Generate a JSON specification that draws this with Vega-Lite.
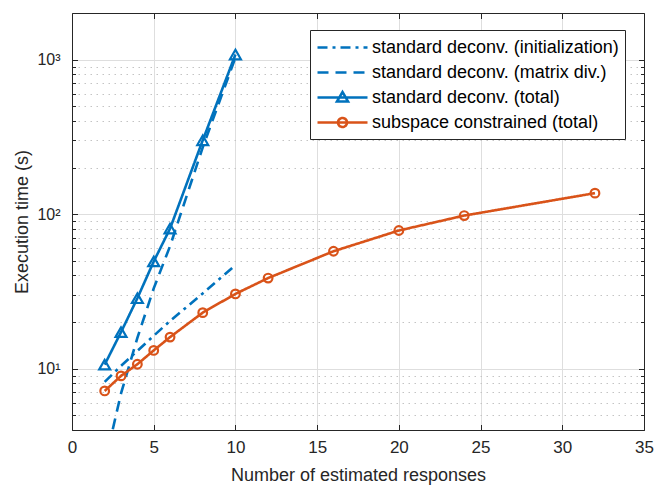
{
  "$schema": "https://vega.github.io/schema/vega-lite/v6.json",
  "width": 572,
  "height": 417,
  "autosize": {"type": "none"},
  "padding": {"left": 72, "top": 13, "right": 10, "bottom": 55},
  "background": "white",
  "config": {
    "view": {"stroke": null},
    "font": "Liberation Sans",
    "axis": {
      "labelFont": "Liberation Sans",
      "titleFont": "Liberation Sans",
      "labelColor": "#262626",
      "titleColor": "#262626",
      "domainColor": "#262626",
      "tickColor": "#262626",
      "titleFontWeight": "normal",
      "gridColor": "#dedede",
      "gridWidth": 1,
      "domainWidth": 1,
      "tickWidth": 1
    }
  },
  "datasets": {
    "d": [
      {"responses": 2, "time": 8.2, "series": "standard deconv. (initialization)"},
      {"responses": 3, "time": 10.4, "series": "standard deconv. (initialization)"},
      {"responses": 4, "time": 13.0, "series": "standard deconv. (initialization)"},
      {"responses": 5, "time": 16.3, "series": "standard deconv. (initialization)"},
      {"responses": 6, "time": 20.3, "series": "standard deconv. (initialization)"},
      {"responses": 8, "time": 30.6, "series": "standard deconv. (initialization)"},
      {"responses": 10, "time": 46.7, "series": "standard deconv. (initialization)"},
      {"responses": 2, "time": 2.4, "series": "standard deconv. (matrix div.)"},
      {"responses": 3, "time": 6.9, "series": "standard deconv. (matrix div.)"},
      {"responses": 4, "time": 15.8, "series": "standard deconv. (matrix div.)"},
      {"responses": 5, "time": 33, "series": "standard deconv. (matrix div.)"},
      {"responses": 6, "time": 62, "series": "standard deconv. (matrix div.)"},
      {"responses": 8, "time": 270, "series": "standard deconv. (matrix div.)"},
      {"responses": 10, "time": 1030, "series": "standard deconv. (matrix div.)"},
      {"responses": 2, "time": 10.6, "series": "standard deconv. (total)"},
      {"responses": 3, "time": 17.2, "series": "standard deconv. (total)"},
      {"responses": 4, "time": 28.5, "series": "standard deconv. (total)"},
      {"responses": 5, "time": 49.3, "series": "standard deconv. (total)"},
      {"responses": 6, "time": 80.5, "series": "standard deconv. (total)"},
      {"responses": 8, "time": 300, "series": "standard deconv. (total)"},
      {"responses": 10, "time": 1077, "series": "standard deconv. (total)"},
      {"responses": 2, "time": 7.16, "series": "subspace constrained (total)"},
      {"responses": 3, "time": 8.96, "series": "subspace constrained (total)"},
      {"responses": 4, "time": 10.66, "series": "subspace constrained (total)"},
      {"responses": 5, "time": 13.1, "series": "subspace constrained (total)"},
      {"responses": 6, "time": 15.97, "series": "subspace constrained (total)"},
      {"responses": 8, "time": 23.0, "series": "subspace constrained (total)"},
      {"responses": 10, "time": 30.4, "series": "subspace constrained (total)"},
      {"responses": 12, "time": 38.5, "series": "subspace constrained (total)"},
      {"responses": 16, "time": 57.4, "series": "subspace constrained (total)"},
      {"responses": 20, "time": 78.2, "series": "subspace constrained (total)"},
      {"responses": 24, "time": 97.7, "series": "subspace constrained (total)"},
      {"responses": 32, "time": 136.5, "series": "subspace constrained (total)"}
    ]
  },
  "data": {"name": "d"},
  "layer": [
    {
      "mark": {"type": "line", "clip": true, "strokeWidth": 2.6, "strokeCap": "butt"},
      "encoding": {
        "x": {
          "field": "responses", "type": "quantitative",
          "scale": {"domain": [0, 35], "nice": false, "zero": false},
          "axis": {
            "title": "Number of estimated responses",
            "values": [0, 5, 10, 15, 20, 25, 30, 35],
            "format": "d",
            "labelFontSize": 17,
            "titleFontSize": 18,
            "tickSize": -5.5,
            "labelPadding": 15,
            "titlePadding": 11,
            "labelFlush": false,
            "grid": true
          }
        },
        "y": {
          "field": "time", "type": "quantitative",
          "scale": {"type": "log", "domain": [4, 2000], "nice": false},
          "axis": {
            "title": "Execution time (s)",
            "values": [10, 100, 1000],
            "labelExpr": "datum.value == 10 ? '10¹' : datum.value == 100 ? '10²' : '10³'",
            "labelFontSize": 16,
            "titleFontSize": 18,
            "tickSize": -5.5,
            "labelPadding": 17.5,
            "titlePadding": 5,
            "grid": true
          }
        },
        "color": {
          "field": "series", "type": "nominal",
          "scale": {
            "domain": ["standard deconv. (initialization)", "standard deconv. (matrix div.)", "standard deconv. (total)", "subspace constrained (total)"],
            "range": ["#0072BD", "#0072BD", "#0072BD", "#D95319"]
          },
          "legend": {
            "title": null,
            "orient": "none",
            "legendX": 238,
            "legendY": 17,
            "symbolSize": 400,
            "symbolOffset": 15,
            "symbolStrokeWidth": 2.6,
            "labelFontSize": 18,
            "labelFont": "Arial",
            "labelColor": "#000000",
            "labelLimit": 0,
            "labelOffset": 18,
            "strokeColor": "#262626",
            "fillColor": "#ffffff",
            "padding": 6,
            "rowPadding": 4,
            "encode": {
              "symbols": {
                "update": {
                  "fill": {"value": "transparent"},
                  "shape": {"signal": "datum.value === 'standard deconv. (total)' ? 'M-2.5,0L2.5,0M0,-0.55L0.55,0.4L-0.55,0.4Z' : datum.value === 'subspace constrained (total)' ? 'M-2.5,0L2.5,0M0.45,0A0.45,0.45,0,1,1,-0.45,0A0.45,0.45,0,1,1,0.45,0' : 'M-2.5,0L2.5,0'"}
                }
              }
            }
          }
        },
        "strokeDash": {
          "field": "series", "type": "nominal",
          "scale": {
            "domain": ["standard deconv. (initialization)", "standard deconv. (matrix div.)", "standard deconv. (total)", "subspace constrained (total)"],
            "range": [[10, 5, 3, 5], [11, 7], [1, 0], [1, 0]]
          },
          "legend": {
            "title": null,
            "orient": "none",
            "legendX": 238,
            "legendY": 17,
            "symbolSize": 400,
            "symbolOffset": 15,
            "symbolStrokeWidth": 2.6,
            "labelFontSize": 18,
            "labelFont": "Arial",
            "labelColor": "#000000",
            "labelLimit": 0,
            "labelOffset": 18,
            "strokeColor": "#262626",
            "fillColor": "#ffffff",
            "padding": 6,
            "rowPadding": 4
          }
        }
      }
    },
    {
      "transform": [{"filter": "datum.series === 'standard deconv. (total)'"}],
      "mark": {"type": "point", "shape": "triangle-up", "filled": false, "size": 120, "strokeWidth": 2.2, "color": "#0072BD", "opacity": 1},
      "encoding": {
        "x": {"field": "responses", "type": "quantitative",
              "axis": {"orient": "top", "title": null, "labels": false, "values": [0, 5, 10, 15, 20, 25, 30, 35], "tickSize": -5.5, "grid": false}},
        "y": {"field": "time", "type": "quantitative",
              "axis": {"orient": "right", "title": null, "labels": false, "values": [10, 100, 1000], "tickSize": -5.5, "grid": false}}
      }
    },
    {
      "transform": [{"filter": "datum.series === 'subspace constrained (total)'"}],
      "mark": {"type": "point", "shape": "circle", "filled": false, "size": 75, "strokeWidth": 2.2, "color": "#D95319", "opacity": 1},
      "encoding": {
        "x": {"field": "responses", "type": "quantitative", "axis": null},
        "y": {"field": "time", "type": "quantitative",
              "axis": {"orient": "left", "title": null, "labels": false, "domain": false,
                       "values": [4, 5, 6, 7, 8, 9, 20, 30, 40, 50, 60, 70, 80, 90, 200, 300, 400, 500, 600, 700, 800, 900],
                       "tickSize": -3.5, "grid": true, "gridDash": [1.5, 4.5], "gridColor": "#c4c4c4"}}
      }
    },
    {
      "transform": [{"filter": "datum.series === 'subspace constrained (total)'"}],
      "mark": {"type": "point", "opacity": 0},
      "encoding": {
        "x": {"field": "responses", "type": "quantitative", "axis": null},
        "y": {"field": "time", "type": "quantitative",
              "axis": {"orient": "right", "title": null, "labels": false, "domain": false,
                       "values": [4, 5, 6, 7, 8, 9, 20, 30, 40, 50, 60, 70, 80, 90, 200, 300, 400, 500, 600, 700, 800, 900],
                       "tickSize": -3.5, "grid": false}}
      }
    }
  ],
  "resolve": {"axis": {"x": "independent", "y": "independent"}}
}
